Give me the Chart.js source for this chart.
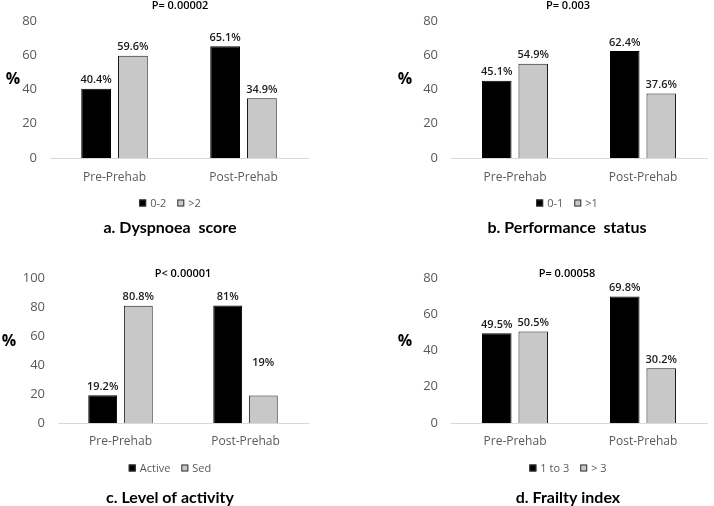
<!DOCTYPE html>
<html>
<head>
<meta charset="utf-8">
<script src="https://cdn.jsdelivr.net/npm/chart.js@4.4.0/dist/chart.umd.min.js"></script>
<style>
    html, body { margin: 0; padding: 0; background: #fff; }
    #wrap { position: relative; width: 714px; height: 506px; }
    .panel { position: absolute; width: 357px; height: 253px; }
</style>
</head>
<body>
<div id="wrap">
    <div class="panel" style="left:0;top:0"><canvas id="c1"></canvas></div>
    <div class="panel" style="left:357px;top:0"><canvas id="c2"></canvas></div>
    <div class="panel" style="left:0;top:253px"><canvas id="c3"></canvas></div>
    <div class="panel" style="left:357px;top:253px"><canvas id="c4"></canvas></div>
</div>
<script>
// data
var categories = ['Pre-Prehab', 'Post-Prehab'];

var dyspnoeaKeys = ['0-2', '>2'];
var dyspnoeaLow = [40.4, 65.1];
var dyspnoeaHigh = [59.6, 34.9];

var perfKeys = ['0-1', '>1'];
var perfLow = [45.1, 62.4];
var perfHigh = [54.9, 37.6];

var activityKeys = ['Active', 'Sed'];
var activeVals = [19.2, 81];
var sedVals = [80.8, 19];

var frailtyKeys = ['1 to 3', '> 3'];
var frailLow = [49.5, 69.8];
var frailHigh = [50.5, 30.2];

var pValues = ['P= 0.00002', 'P= 0.003', 'P< 0.00001', 'P= 0.00058'];
var panelTitles = ['a. Dyspnoea  score', 'b. Performance  status', 'c. Level of activity', 'd. Frailty index'];
var yMax = [80, 80, 100, 80];

Chart.defaults.font.family = '"Open Sans", sans-serif';

var W = 357, H = 253;

var panels = [
    { id: 'c1', a: dyspnoeaLow, b: dyspnoeaHigh, keys: dyspnoeaKeys,
      area: { left: 50, right: 308, top: 12, bottom: 158 },
      textX: 170, pX: 180, pY: 6, pctX: 13, pctY: 79, legendY: 203, titleY: 228, tickPad: 12 },
    { id: 'c2', a: perfLow, b: perfHigh, keys: perfKeys,
      area: { left: 94, right: 350, top: 12, bottom: 158 },
      textX: 210, pX: 211, pY: 6, pctX: 48, pctY: 79, legendY: 203, titleY: 228, tickPad: 12 },
    { id: 'c3', a: activeVals, b: sedVals, keys: activityKeys,
      area: { left: 58, right: 308, top: 25, bottom: 170 },
      textX: 170, pX: 183, pY: 21, pctX: 9, pctY: 88, legendY: 215, titleY: 245, tickPad: 11,
      lift: [[0, 0], [0, 24]] },
    { id: 'c4', a: frailLow, b: frailHigh, keys: frailtyKeys,
      area: { left: 94, right: 350, top: 25, bottom: 170 },
      textX: 211, pX: 210, pY: 21, pctX: 48, pctY: 88, legendY: 215, titleY: 245, tickPad: 11 }
];

var extras = {
    id: 'extras',
    afterDatasetsDraw: function (chart, args, opts) {
        var ctx = chart.ctx;
        ctx.save();

        // value labels
        ctx.fillStyle = '#1a1a1a';
        ctx.font = '600 11px "Open Sans"';
        ctx.textAlign = 'center';
        ctx.textBaseline = 'bottom';
        chart.data.datasets.forEach(function (ds, i) {
            chart.getDatasetMeta(i).data.forEach(function (bar, j) {
                var lift = (opts.lift && opts.lift[i][j]) || 0;
                ctx.fillText(ds.data[j] + '%', bar.x, bar.y - 3 - lift);
            });
        });

        // p value
        ctx.fillStyle = '#000';
        ctx.font = '600 11px "Open Sans"';
        ctx.textBaseline = 'middle';
        ctx.fillText(opts.pText, opts.pX, opts.pY);

        // % axis label
        ctx.font = 'bold 16px "Open Sans"';
        ctx.fillText('%', opts.pctX, opts.pctY);

        // legend
        ctx.font = '11px "Open Sans"';
        var box = 7, gap = 4, itemGap = 11;
        var widths = chart.data.datasets.map(function (ds) { return ctx.measureText(ds.label).width; });
        var total = widths.reduce(function (s, w) { return s + box + gap + w; }, 0) + itemGap * (widths.length - 1);
        var x = opts.textX - total / 2;
        ctx.textAlign = 'left';
        chart.data.datasets.forEach(function (ds, i) {
            ctx.fillStyle = ds.backgroundColor;
            ctx.fillRect(x, opts.legendY - box / 2, box, box);
            ctx.strokeStyle = '#333';
            ctx.lineWidth = 1;
            ctx.strokeRect(x + 0.5, opts.legendY - box / 2 + 0.5, box - 1, box - 1);
            ctx.fillStyle = '#595959';
            ctx.fillText(ds.label, x + box + gap, opts.legendY + 0.5);
            x += box + gap + widths[i] + itemGap;
        });

        // panel title
        ctx.textAlign = 'center';
        ctx.fillStyle = '#000';
        ctx.font = 'bold 16px Lato';
        ctx.fillText(opts.title, opts.textX, opts.titleY);

        ctx.restore();
    }
};

function build() {
    panels.forEach(function (p, k) {
        var area = p.area;
        new Chart(document.getElementById(p.id), {
            type: 'bar',
            data: {
                labels: categories,
                datasets: [
                    { label: p.keys[0], data: p.a, backgroundColor: '#000000', borderColor: '#000000', borderWidth: 1 },
                    { label: p.keys[1], data: p.b, backgroundColor: '#c8c8c8', borderColor: '#1a1a1a', borderWidth: 1 }
                ]
            },
            options: {
                responsive: true,
                maintainAspectRatio: false,
                animation: false,
                events: [],
                categoryPercentage: 0.57,
                barPercentage: 0.81,
                layout: { padding: { left: 0, right: W - area.right, top: area.top, bottom: 0 } },
                plugins: {
                    legend: { display: false },
                    tooltip: { enabled: false },
                    extras: {
                        pText: pValues[k], title: panelTitles[k], lift: p.lift,
                        textX: p.textX, pX: p.pX, pY: p.pY, pctX: p.pctX, pctY: p.pctY,
                        legendY: p.legendY, titleY: p.titleY
                    }
                },
                scales: {
                    x: {
                        grid: { display: false, drawTicks: false },
                        border: { display: true, color: '#d9d9d9', width: 1 },
                        ticks: { color: '#595959', font: { size: 12 }, padding: p.tickPad },
                        afterFit: function (s) { s.height = H - area.bottom; }
                    },
                    y: {
                        min: 0, max: yMax[k],
                        ticks: { stepSize: 20, color: '#595959', font: { size: 13 }, padding: 13 },
                        grid: { display: false, drawTicks: false },
                        border: { display: false },
                        afterFit: function (s) { s.width = area.left; }
                    }
                }
            },
            plugins: [extras]
        });
    });
}

Promise.all([
    document.fonts.load('12px "Open Sans"'),
    document.fonts.load('600 11px "Open Sans"'),
    document.fonts.load('bold 16px "Open Sans"'),
    document.fonts.load('bold 16px Lato')
]).then(build, build);
</script>
</body>
</html>
